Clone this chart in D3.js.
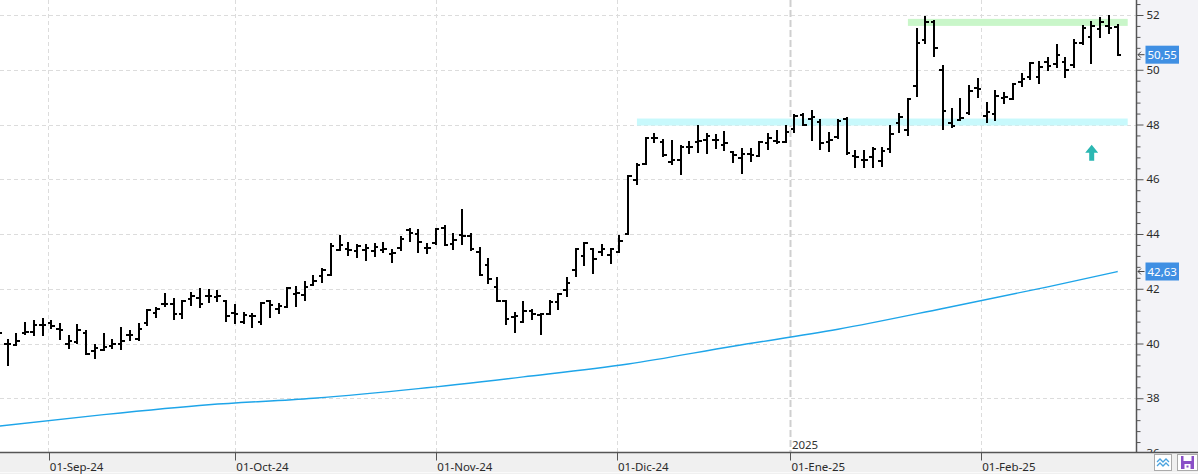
<!DOCTYPE html>
<html><head><meta charset="utf-8">
<script src="https://cdn.jsdelivr.net/npm/d3@7"></script>
<style>
html,body{margin:0;padding:0;background:#fff;}
svg{display:block;font-family:"Noto Sans","DejaVu Sans",sans-serif;}
</style></head>
<body><svg id="c" width="1198" height="474"></svg>
<script>
// ---- DATA ----
const firstDay = "2024-08-23", lastDay = "2025-02-24";
const holidays = ["2024-12-25", "2024-12-26", "2025-01-01"];
const openP = [40.30,39.97,39.95,40.39,40.43,40.66,40.76,40.54,39.97,40.04,40.40,39.74,39.78,39.90,40.00,40.32,40.15,40.76,41.12,41.43,41.43,41.09,41.61,41.66,41.75,41.69,41.54,41.12,40.78,41.02,40.78,41.54,41.27,41.35,41.82,41.78,42.15,42.45,42.52,43.43,43.44,43.38,43.40,43.38,43.43,43.28,43.49,44.13,43.99,43.49,43.67,44.23,43.62,43.98,43.91,43.36,42.85,42.06,41.57,40.96,40.78,41.18,41.05,41.09,41.51,41.96,42.67,43.18,43.46,43.36,43.24,43.36,43.99,45.96,46.57,47.49,47.36,46.63,46.69,47.18,47.36,47.43,47.45,47.25,46.98,46.76,46.91,46.84,47.31,47.40,47.36,47.82,48.34,48.20,48.10,47.35,47.55,48.19,46.84,46.72,46.80,46.65,47.10,48.06,47.80,49.41,51.09,51.76,49.99,48.07,48.18,48.43,49.32,48.31,48.37,48.95,48.92,49.56,49.74,49.74,50.29,50.20,50.30,50.17,50.99,51.18,51.48,51.60,51.55];
const highP = [40.50,40.13,40.35,40.76,40.84,40.90,40.81,40.72,40.27,40.68,40.44,39.95,40.35,40.13,40.57,40.47,40.72,41.23,41.31,41.82,41.61,41.54,41.85,42.00,41.94,41.90,41.57,41.41,41.12,41.09,41.49,41.57,41.45,42.02,42.06,42.26,42.45,42.73,43.65,43.92,43.68,43.58,43.58,43.62,43.67,43.43,43.89,44.19,44.13,43.65,44.19,44.28,44.01,44.89,44.01,43.50,43.07,42.40,41.57,41.11,41.51,41.21,41.09,41.55,41.82,42.40,43.46,43.68,43.46,43.61,43.46,43.91,46.11,46.57,47.52,47.67,47.45,47.39,47.21,47.36,47.95,47.67,47.61,47.71,47.00,47.09,47.09,47.36,47.65,47.76,47.94,48.34,48.37,48.49,48.16,47.69,48.16,48.22,47.03,47.03,47.15,47.15,47.94,48.40,48.93,51.48,51.94,51.78,50.15,48.56,48.93,49.40,49.65,48.79,49.23,49.16,49.48,49.84,50.26,50.29,50.42,50.90,50.42,51.09,51.60,51.76,51.90,51.96,51.63];
const lowP = [40.20,39.22,39.93,40.35,40.32,40.32,40.57,40.17,39.84,40.01,39.60,39.47,39.78,39.84,39.80,40.14,40.11,40.66,40.98,41.36,40.90,40.92,41.41,41.33,41.51,41.54,40.84,40.76,40.76,40.60,40.72,40.96,41.12,41.35,41.36,41.60,42.12,42.24,42.51,43.40,43.24,43.16,43.04,43.18,43.34,42.97,43.43,43.74,43.34,43.30,43.65,43.58,43.46,43.65,43.43,42.52,42.22,41.55,40.72,40.41,40.78,40.90,40.35,41.06,41.27,41.75,42.46,42.88,42.59,43.22,42.95,43.36,43.99,45.84,46.57,47.36,46.84,46.57,46.21,46.96,47.00,46.96,47.15,47.06,46.63,46.23,46.67,46.84,47.09,47.31,47.36,47.73,47.97,47.45,47.09,47.03,47.52,46.94,46.43,46.43,46.45,46.50,47.00,47.73,47.61,49.05,50.96,50.50,47.85,47.91,48.18,48.40,48.99,48.10,48.18,48.77,48.92,49.40,49.68,49.50,49.99,50.11,49.74,50.11,50.94,50.23,51.20,51.33,50.54];
const closeP = [40.39,40.00,40.08,40.41,40.68,40.69,40.63,40.51,40.08,40.50,39.60,39.85,39.89,39.97,40.08,40.30,40.54,41.23,41.25,41.44,41.09,41.54,41.75,41.45,41.72,41.75,41.02,41.09,41.05,41.00,41.47,41.39,41.36,42.02,41.85,42.05,42.30,42.67,43.56,43.58,43.40,43.55,43.49,43.52,43.46,43.30,43.80,44.05,43.70,43.49,44.19,43.58,43.79,43.92,43.44,42.52,42.34,41.55,40.90,41.02,41.17,41.06,41.06,41.51,41.82,42.20,43.46,43.68,43.10,43.44,43.44,43.74,46.11,46.51,47.51,47.52,46.88,46.69,47.18,47.18,47.40,47.57,47.43,47.31,46.88,46.94,46.88,47.36,47.49,47.36,47.73,48.30,47.97,48.28,47.33,47.45,48.14,46.96,46.81,46.72,47.10,47.05,47.67,48.26,48.93,50.96,51.73,50.78,48.49,47.95,48.24,49.22,49.28,48.45,49.04,48.99,49.48,49.68,50.26,50.11,50.13,50.54,49.99,50.99,51.51,51.60,51.75,51.51,50.55];
// moving average read at selected sessions
const maDates = ["2024-08-23","2024-09-10","2024-09-26","2024-10-14","2024-10-30","2024-11-15","2024-12-03","2024-12-19","2025-01-09","2025-01-27","2025-02-12","2025-02-24"];
const maValues = [36.98,37.40,37.76,38.00,38.35,38.78,39.25,39.90,40.52,41.28,42.07,42.63];
const monthTicks = ["2024-09-01","2024-10-01","2024-11-01","2024-12-01","2025-01-01","2025-02-01"];
const monthLabels = ["01-Sep-24","01-Oct-24","01-Nov-24","01-Dic-24","01-Ene-25","01-Feb-25"];
const yearMark = "2025-01-01", yearLabel = "2025";
const yTicks = [36,38,40,42,44,46,48,50,52];
const bandLevels = [51.73, 48.09];
const bandStarts = ["2025-01-21", "2024-12-04"];
const bandColors = ["#c9f6c9", "#c8f9fc"];
const arrowLevel = 46.97;
const lastClose = 50.55, lastMA = 42.63;

// ---- SETUP ----
const W = 1198, H = 474, plotR = 1136.5, plotB = 452.5;
const parse = d3.timeParse("%Y-%m-%d");
const hol = new Set(holidays);
const dates = [];
for (let d = parse(firstDay); d <= parse(lastDay); d = d3.timeDay.offset(d, 1)) {
  const wd = d.getDay();
  if (wd === 0 || wd === 6) continue;
  if (hol.has(d3.timeFormat("%Y-%m-%d")(d))) continue;
  dates.push(d);
}
const idxOf = s => { const t = +parse(s); return dates.findIndex(d => +d === t); };
function posOf(s) {
  const t = parse(s);
  let p = 0;
  for (let i = 0; i < dates.length; i++) if (dates[i] <= t) p = i;
  if (+dates[p] === +t || p === dates.length - 1) return p;
  return p + d3.timeDay.count(dates[p], t) / d3.timeDay.count(dates[p], dates[p + 1]);
}
const x = d3.scaleLinear().domain([0, dates.length - 1]).range([-1.2, 1117.7]);
const y = d3.scaleLinear().domain([36, 52]).range([453, 15]);

const svg = d3.select("#c");
svg.append("rect").attr("width", W).attr("height", H).attr("fill", "#fff");
// right panel
svg.append("rect").attr("x", plotR).attr("y", 0).attr("width", W - plotR).attr("height", plotB).attr("fill", "#f3f3f7");

svg.append("defs").append("clipPath").attr("id", "pc").append("rect")
  .attr("x", 0).attr("y", 0).attr("width", plotR).attr("height", plotB);
const plot = svg.append("g").attr("clip-path", "url(#pc)");

// horizontal grid
plot.selectAll("line.hg").data(yTicks).join("line").attr("class", "hg")
  .attr("x1", 0).attr("x2", plotR).attr("y1", d => Math.round(y(d)) + 0.5).attr("y2", d => Math.round(y(d)) + 0.5)
  .attr("stroke", "#dcdcdc").attr("stroke-dasharray", "4,3");
// vertical grid
plot.selectAll("line.vg").data(monthTicks).join("line").attr("class", "vg")
  .attr("x1", d => Math.round(x(posOf(d))) + 0.5).attr("x2", d => Math.round(x(posOf(d))) + 0.5)
  .attr("y1", 0).attr("y2", plotB)
  .attr("stroke", d => d === yearMark ? "#cfcfcf" : "#dcdcdc")
  .attr("stroke-width", d => d === yearMark ? 2 : 1)
  .attr("stroke-dasharray", d => d === yearMark ? "7,3" : "4,3");

// bands
plot.selectAll("rect.band").data(bandLevels).join("rect").attr("class", "band")
  .attr("x", (d, i) => x(idxOf(bandStarts[i])))
  .attr("width", (d, i) => x(dates.length - 1) + 10 - x(idxOf(bandStarts[i])))
  .attr("y", d => y(d) - 3.5).attr("height", 7)
  .attr("fill", (d, i) => bandColors[i]);

// moving average
const maLine = d3.line().curve(d3.curveMonotoneX).x(d => x(idxOf(d[0]))).y(d => y(d[1]));
plot.append("path").datum(maDates.map((d, i) => [d, maValues[i]]))
  .attr("d", maLine).attr("fill", "none").attr("stroke", "#1ea5e9").attr("stroke-width", 1.4);

// OHLC bars
const bars = plot.append("g").attr("stroke", "#000").attr("stroke-width", 2).attr("shape-rendering", "crispEdges");
dates.forEach((d, i) => {
  const cx = x(i);
  bars.append("line").attr("x1", cx).attr("x2", cx).attr("y1", y(highP[i]) - 1).attr("y2", y(lowP[i]) + 1);
  bars.append("line").attr("x1", cx - 3.5).attr("x2", cx).attr("y1", y(openP[i])).attr("y2", y(openP[i]));
  bars.append("line").attr("x1", cx).attr("x2", cx + 3.5).attr("y1", y(closeP[i])).attr("y2", y(closeP[i]));
});

// up arrow marker
const ax = x(dates.length - 1) - 26, ay = y(arrowLevel);
plot.append("path")
  .attr("d", `M${ax},${ay - 8} L${ax + 6.5},${ay} L${ax + 2.5},${ay} L${ax + 2.5},${ay + 8} L${ax - 2.5},${ay + 8} L${ax - 2.5},${ay} L${ax - 6.5},${ay} Z`)
  .attr("fill", "#2bb7b2");

// year label
svg.append("text").attr("x", x(posOf(yearMark)) + 2).attr("y", 449).attr("font-size", 11.5)
  .attr("fill", "#333").text(yearLabel);

// right axis (minor + major)
const minor = d3.range(36, 52.6, 0.4).filter(v => Math.abs(v / 2 - Math.round(v / 2)) > 0.01);
const gMin = svg.append("g").attr("transform", `translate(${plotR},0)`)
  .call(d3.axisRight(y).tickValues(minor).tickSize(4).tickFormat(""));
gMin.select(".domain").remove();
gMin.selectAll("line").attr("stroke", "#555");
const gY = svg.append("g").attr("transform", `translate(${plotR},0)`)
  .call(d3.axisRight(y).tickValues(yTicks).tickSize(7).tickPadding(3).tickFormat(d3.format("d")));
gY.select(".domain").remove();
gY.selectAll("line").attr("stroke", "#555");
gY.selectAll("text").attr("font-size", 11.5).attr("fill", "#2a2a2a").attr("font-family", "Noto Sans, sans-serif");
svg.append("line").attr("x1", plotR).attr("x2", plotR).attr("y1", 0).attr("y2", plotB).attr("stroke", "#555").attr("stroke-width", 1.5);

// price badges
function badge(v) {
  const by = y(v);
  svg.append("path").attr("d", `M${plotR + 8},${by} H${plotR + 1.5} M${plotR + 4.5},${by - 3} L${plotR + 1.5},${by} L${plotR + 4.5},${by + 3}`)
    .attr("stroke", "#444").attr("fill", "none").attr("stroke-width", 1);
  svg.append("rect").attr("x", plotR + 9).attr("y", by - 9).attr("width", 33.5).attr("height", 18).attr("fill", "#3f8fe3");
  svg.append("text").attr("x", plotR + 9 + 16.75).attr("y", by + 4).attr("text-anchor", "middle")
    .attr("font-size", 11.5).attr("fill", "#fff").text(d3.format(".2f")(v).replace(".", ","));
}
badge(lastClose);
badge(lastMA);

// bottom band
svg.append("rect").attr("x", 0).attr("y", plotB).attr("width", W).attr("height", H - plotB).attr("fill", "#f0f0f0");
svg.append("line").attr("x1", 0).attr("x2", W).attr("y1", plotB).attr("y2", plotB).attr("stroke", "#555").attr("stroke-width", 1.5);
svg.append("line").attr("x1", 0).attr("x2", W).attr("y1", 472.5).attr("y2", 472.5).attr("stroke", "#fafafa");
const xs = d3.scaleLinear().domain(x.domain()).range(x.range());
const gX = svg.append("g").attr("transform", `translate(0,${plotB})`)
  .call(d3.axisBottom(xs).tickValues(monthTicks.map(posOf)).tickSize(8).tickPadding(0)
    .tickFormat((d, i) => monthLabels[i]));
gX.select(".domain").remove();
gX.selectAll("line").attr("stroke", "#555").attr("transform", function () { const t = +d3.select(this.parentNode).attr("transform").match(/\(([-\d.]+)/)[1]; return `translate(${Math.round(t) + 0.5 - t},0)`; });
gX.selectAll("text").attr("text-anchor", "start").attr("dx", 1).attr("y", 18).attr("dy", 0)
  .attr("font-size", 11.5).attr("fill", "#2a2a2a").attr("font-family", "Noto Sans, sans-serif");

// toolbar icons
const ic = svg.append("g");
ic.append("rect").attr("x", 1154.5).attr("y", 454.5).attr("width", 17).attr("height", 16).attr("fill", "#fff").attr("stroke", "#aaa");
ic.append("path").attr("d", "M1157,462 l3,-3 l3,3 l3,-3 l3,3 M1157,466 l3,-3 l3,3 l3,-3 l3,3").attr("fill", "none").attr("stroke", "#4aa3df").attr("stroke-width", 1.3);
ic.append("rect").attr("x", 1177.5).attr("y", 454.5).attr("width", 20).attr("height", 16).attr("fill", "#fff").attr("stroke", "#aaa");
ic.append("rect").attr("x", 1181).attr("y", 456).attr("width", 13).attr("height", 13).attr("fill", "#8a4fc7");
ic.append("rect").attr("x", 1183.5).attr("y", 456).attr("width", 8).attr("height", 5).attr("fill", "#fff");
ic.append("rect").attr("x", 1184.5).attr("y", 464).attr("width", 6).attr("height", 5).attr("fill", "#fff");
ic.append("rect").attr("x", 1186.5).attr("y", 465.5).attr("width", 2).attr("height", 2).attr("fill", "#8a4fc7");
</script></body></html>
